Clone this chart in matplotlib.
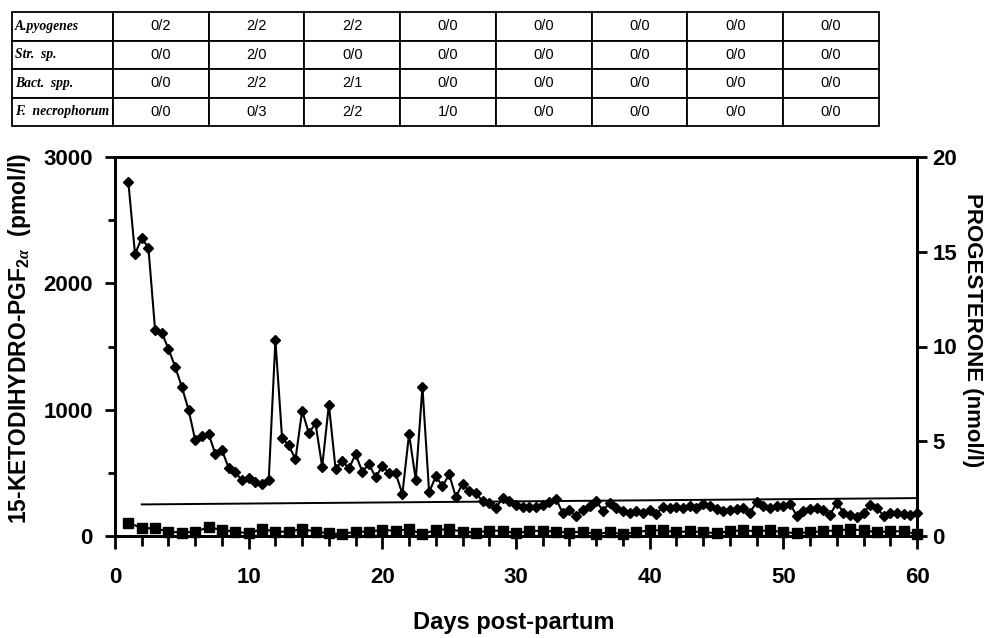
import numpy as np
import matplotlib
matplotlib.use("Agg")
import matplotlib.pyplot as plt
from matplotlib.ticker import MultipleLocator

plt.rcParams['font.family'] = ['Liberation Sans', 'DejaVu Sans']
plt.rcParams['font.weight'] = 'bold'
plt.rcParams['mathtext.fontset'] = 'custom'
plt.rcParams['mathtext.bf'] = 'Liberation Sans:bold'
plt.rcParams['mathtext.rm'] = 'Liberation Serif'
plt.rcParams['mathtext.it'] = 'Liberation Serif:italic'

# bacteriology table (rows = organism, cols = sampling periods)
organisms = ['A.pyogenes', 'Str.  sp.', 'Bact.  spp.', 'F.  necrophorum']
table_vals = [
    ['0/2', '2/2', '2/2', '0/0', '0/0', '0/0', '0/0', '0/0'],
    ['0/0', '2/0', '0/0', '0/0', '0/0', '0/0', '0/0', '0/0'],
    ['0/0', '2/2', '2/1', '0/0', '0/0', '0/0', '0/0', '0/0'],
    ['0/0', '0/3', '2/2', '1/0', '0/0', '0/0', '0/0', '0/0'],
]

# 15-ketodihydro-PGF2a, sampled twice daily from day 1 to day 60 (pmol/l)
pgf_days = np.arange(1, 60.5, 0.5)
pgf = [2800, 2230, 2360, 2280, 1630, 1610, 1480, 1340, 1180, 1000,
       760, 790, 810, 650, 680, 540, 505, 440, 457, 425,
       415, 441, 1550, 774, 718, 606, 992, 814, 891, 548,
       1040, 532, 593, 536, 646, 510, 570, 465, 553, 500,
       495, 333, 808, 444, 1180, 346, 473, 394, 487, 309,
       415, 354, 341, 274, 261, 221, 301, 274, 247, 226,
       226, 229, 247, 266, 293, 181, 202, 160, 207, 234,
       279, 200, 261, 221, 200, 186, 194, 186, 208, 176,
       229, 221, 226, 221, 234, 221, 256, 234, 213, 200,
       208, 213, 221, 186, 266, 234, 221, 240, 234, 256,
       160, 194, 213, 221, 202, 168, 261, 186, 168, 154,
       181, 248, 221, 160, 186, 181, 176, 168, 186]

# progesterone, daily (nmol/l)
p4_days = np.arange(1, 61)
p4 = [0.71, 0.41, 0.41, 0.23, 0.18, 0.23, 0.46, 0.32, 0.23, 0.14,
      0.37, 0.23, 0.23, 0.37, 0.23, 0.14, 0.10, 0.23, 0.23, 0.32,
      0.28, 0.36, 0.10, 0.32, 0.36, 0.23, 0.18, 0.28, 0.28, 0.14,
      0.26, 0.28, 0.23, 0.18, 0.23, 0.10, 0.20, 0.10, 0.20, 0.30,
      0.30, 0.20, 0.25, 0.20, 0.15, 0.25, 0.30, 0.25, 0.30, 0.20,
      0.15, 0.20, 0.25, 0.30, 0.35, 0.30, 0.20, 0.25, 0.25, 0.10]

# baseline line (pmol/l)
base_days = [2, 60]
base_vals = [250, 300]

fig = plt.figure(figsize=(9.9, 6.38), dpi=100)
W, H = 990.0, 638.0

# ---- table on top
tax = fig.add_axes([12 / W, 1 - 126 / H, 867 / W, 114 / H])
tax.axis('off')
cells = [[org] + row for org, row in zip(organisms, table_vals)]
widths = [101.0 / 867] + [95.75 / 867] * 8
tbl = tax.table(cellText=cells, colWidths=widths, bbox=[0, 0, 1, 1], cellLoc='center')
tbl.auto_set_font_size(False)
for (r, c), cell in tbl.get_celld().items():
    cell.set_linewidth(1.3)
    cell.set_edgecolor('black')
    t = cell.get_text()
    t.set_fontsize(10.5)
    if c == 0:
        t.set_fontfamily('Liberation Serif')
        t.set_fontstyle('italic')
        t.set_fontweight('bold')
        t.set_fontsize(9.8)
        cell._loc = 'left'
        t.set_horizontalalignment('left')
        cell.PAD = 0.03
    else:
        t.set_fontweight('normal')

# ---- main chart
ax = fig.add_axes([115 / W, 1 - 536 / H, 802 / W, 379 / H])
ax.plot(pgf_days, pgf, '-D', color='black', ms=5.5, lw=1.5, clip_on=False, zorder=3)
ax.plot(base_days, base_vals, color='black', lw=1.4)
ax.set_xlim(0, 60)
ax.set_ylim(0, 3000)

ax2 = ax.twinx()
ax2.plot(p4_days, p4, '-s', color='black', ms=6.5, lw=1.5, clip_on=False)
ax2.set_ylim(0, 20)

for a in (ax, ax2):
    for s in a.spines.values():
        s.set_linewidth(2)

ax.xaxis.set_major_locator(MultipleLocator(10))
ax.xaxis.set_minor_locator(MultipleLocator(2))
ax.yaxis.set_major_locator(MultipleLocator(1000))
ax.yaxis.set_minor_locator(MultipleLocator(500))
ax2.yaxis.set_major_locator(MultipleLocator(5))

ax.tick_params(axis='x', which='major', direction='out', length=9, width=2, pad=13, labelsize=16)
ax.tick_params(axis='x', which='minor', direction='out', length=7, width=2)
ax.tick_params(axis='y', which='major', direction='out', length=7, width=2, pad=9, labelsize=16)
ax.tick_params(axis='y', which='minor', direction='out', length=5, width=2)
ax2.tick_params(axis='y', which='major', direction='out', length=7, width=2, pad=4, labelsize=16)

fig.text(20 / W, 1 - 338 / H, r'15-KETODIHYDRO-PGF$_{\mathbf{2}\alpha}$  (pmol/l)',
         rotation=90, ha='center', va='center', fontsize=16.5, fontweight='bold')
fig.text(972 / W, 1 - 330 / H, 'PROGESTERONE (nmol/l)', rotation=270,
         ha='center', va='center', fontsize=16, fontweight='bold')
fig.text(514 / W, 1 - 623 / H, 'Days post-partum', ha='center', va='center',
         fontsize=17, fontweight='bold')

fig.savefig('out.png', dpi=100)
